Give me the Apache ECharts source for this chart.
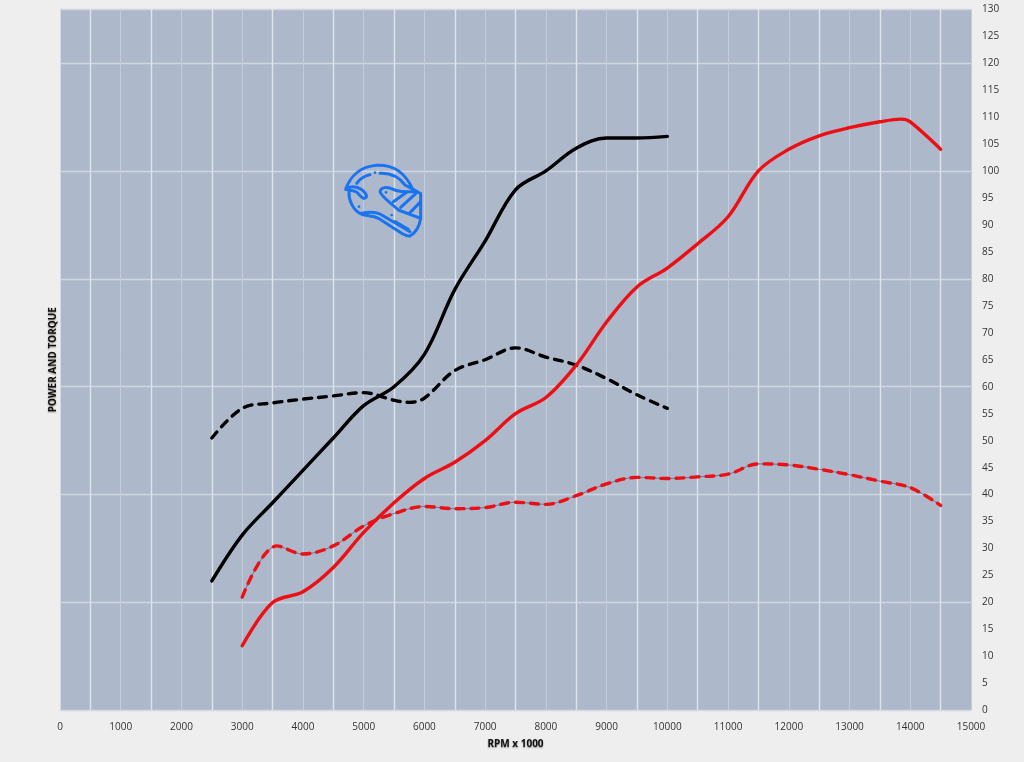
<!DOCTYPE html>
<html><head><meta charset="utf-8">
<style>html,body{margin:0;padding:0;background:#eeeeee}#c{width:1024px;height:762px}</style>
<script src="https://cdn.jsdelivr.net/npm/echarts@6/dist/echarts.min.js"></script>
</head><body><div id="c"></div>
<script>
const blackPowerRpm = [2500,3000,3500,4000,4500,5000,5500,6000,6500,7000,7500,8000,8500,9000,9500,10000];
const blackPower = [24,32.5,38.5,44.5,50.5,56.5,60,66,78,87,96.5,100,104.2,106.1,106.1,106.4];
const blackTorqueRpm = [2500,3000,3500,4000,4500,5000,5500,5750,6000,6500,7000,7500,8000,8500,9000,9500,10000];
const blackTorque = [50.5,56,57,57.7,58.3,58.9,57.5,57.1,57.9,63,65,67.2,65.5,64,61.5,58.5,56];
const redPowerRpm = [3000,3500,4000,4500,5000,5500,6000,6500,7000,7500,8000,8500,9000,9500,10000,10500,11000,11500,12000,12500,13000,13500,13850,14000,14500];
const redPower = [12,20,22,26.5,33,38.5,43,46,50,55,58,64,72,78.5,82,86.5,91.5,100,104,106.5,108,109.1,109.6,109.1,104];
const redTorqueRpm = [3000,3570,4000,4500,5000,5500,6000,6500,7000,7500,8000,8500,9000,9500,10000,10500,11000,11500,12000,12500,13000,13500,14000,14500];
const redTorque = [21,30.5,29,30.5,34.2,36.5,37.8,37.4,37.6,38.6,38.2,39.8,42,43.2,43,43.3,43.8,45.7,45.5,44.7,43.7,42.5,41.3,38];
const xTitle = 'RPM x 1000';
const yTitle = 'POWER AND TORQUE';

const zip = (a, b) => a.map((v, i) => [v, b[i]]);
const labelStyle = { color: '#333', fontFamily: 'Open Sans', fontSize: 10 };
const titleStyle = { color: '#111', fontFamily: 'Open Sans', fontSize: 10, fontWeight: 'bold', textShadowColor: 'rgba(0,0,0,0.45)', textShadowBlur: 1.5, textShadowOffsetY: 1 };
const line = (name, xs, ys, color, dashed, width = 3.4, z = 3) => ({
  name, type: 'line', data: zip(xs, ys), smooth: 0.35, showSymbol: false, symbol: 'none',
  lineStyle: { color, width, type: dashed ? [8, 7] : 'solid', cap: 'round', join: 'round' },
  itemStyle: { color }, z
});

const helmet = [
  'M47 118C60 80 90 50 140 46C190 44 225 65 250 122L272 130L272 205C268 230 255 250 240 258C232 260 222 254 215 250L145 205C125 195 105 200 90 190C70 180 55 150 57 125',
  'M47 118C65 103 100 112 110 138C105 152 93 142 82 128C72 120 60 122 47 118',
  'M80 100C90 85 105 78 120 74M150 70C190 68 210 85 225 105L262 125',
  'M150 125C152 112 170 108 190 118C210 128 240 125 262 125',
  'M150 125C155 142 185 160 205 180L272 205',
  'M190 155L232 125M212 172L258 130M238 190L272 155',
  'M95 190C120 185 135 185 150 192L240 245M195 215L235 238'
].join('');
const helmetDots = [[135, 68], [168, 127], [87, 170], [185, 195]];

const helmetSeries = {
  type: 'custom', coordinateSystem: 'none', data: [[0]], silent: true, z: 5,
  renderItem: () => ({
    type: 'group', x: 330, y: 150, scaleX: 1 / 3, scaleY: 1 / 3,
    children: [
      { type: 'path', shape: { pathData: helmet },
        style: { fill: 'none', stroke: '#1a73f0', lineWidth: 9, lineJoin: 'round', lineCap: 'round' } },
      ...helmetDots.map(([cx, cy]) => ({
        type: 'circle', shape: { cx, cy, r: 4 }, style: { fill: '#1a73f0' }
      }))
    ]
  })
};

const chart = echarts.init(document.getElementById('c'), null, { renderer: 'canvas' });
chart.setOption({
  animation: false,
  backgroundColor: '#eeeeee',
  grid: { left: 60, top: 9, width: 911, height: 701.5, backgroundColor: '#adb9ca', show: true, borderWidth: 0 },
  xAxis: {
    type: 'value', min: 0, max: 15000, interval: 1000,
    name: xTitle, nameLocation: 'middle', nameGap: 29,
    nameTextStyle: titleStyle,
    axisLine: { show: true, onZero: false, lineStyle: { color: '#d3dae5' } },
    axisTick: { show: false },
    axisLabel: { ...labelStyle, margin: 12, formatter: v => String(v) },
    splitLine: { show: true, lineStyle: { color: '#c4ccd9', width: 1 } },
    minorTick: { show: false, splitNumber: 2 },
    minorSplitLine: { show: true, lineStyle: { color: '#dfe4ec', width: 1.4 } }
  },
  yAxis: [
    {
      type: 'value', position: 'right', min: 0, max: 130, interval: 5,
      axisLine: { show: false }, axisTick: { show: false },
      axisLabel: { ...labelStyle, margin: 11, padding: [2, 0, 0, 0] },
      splitLine: { show: false }
    },
    {
      type: 'value', position: 'left', min: 0, max: 130, interval: 20,
      name: yTitle, nameLocation: 'middle', nameGap: 2, nameRotate: 90,
      nameTextStyle: titleStyle,
      axisLine: { show: true, lineStyle: { color: '#d3dae5' } },
      axisTick: { show: false }, axisLabel: { show: false },
      splitLine: { show: true, lineStyle: { color: '#cfd6e1', width: 1.4 } }
    }
  ],
  series: [
    line('Black power', blackPowerRpm, blackPower, '#000000', false),
    line('Black torque', blackTorqueRpm, blackTorque, '#000000', true),
    line('Red power', redPowerRpm, redPower, '#ee0f14', false),
    line('Red torque base', redTorqueRpm, redTorque, '#4f7fb5', false, 1, 2),
    line('Red torque', redTorqueRpm, redTorque, '#ee0f14', true),
    helmetSeries
  ]
});
</script></body></html>
